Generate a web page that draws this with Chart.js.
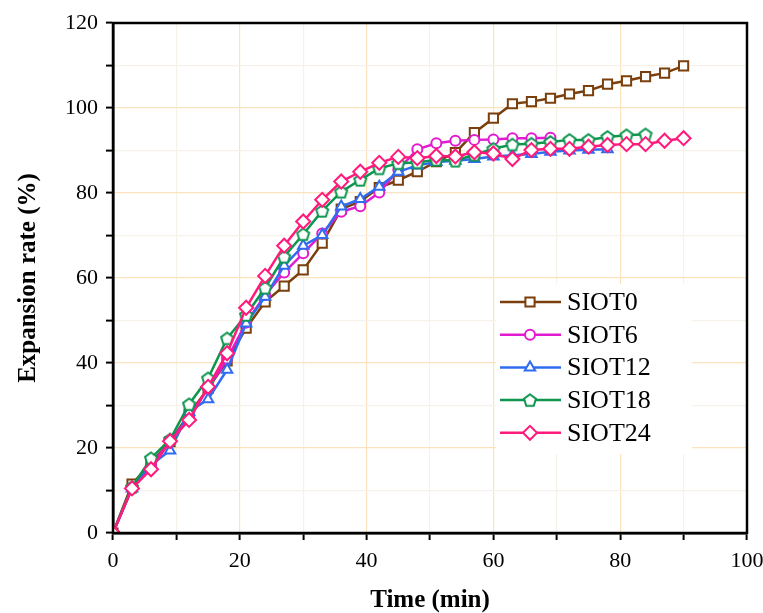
<!DOCTYPE html>
<html>
<head>
<meta charset="utf-8">
<script src="https://cdn.jsdelivr.net/npm/chart.js@4.4.0/dist/chart.umd.min.js"></script>
<style>
  body { margin: 0; background: #fff; }
  #wrap { width: 763px; height: 613px; }
</style>
</head>
<body>
<div id="wrap"><canvas id="chart" width="763" height="613"></canvas></div>
<script>
// sampling times (min), shared by all series
const timeMin = [0, 3, 6, 9, 12, 15, 18, 21, 24, 27, 30, 33, 36, 39, 42, 45, 48, 51, 54, 57, 60, 63, 66, 69, 72, 75, 78, 81, 84, 87, 90];

// expansion rate (%)
const siot0 = [0, 11.5, 16.5, 21.5, 28, 34, 40.5, 48.2, 54.4, 58.1, 61.9, 68.2, 76.2, 78, 81.3, 83, 85, 87.4, 89.5, 94.2, 97.6, 101, 101.5, 102.3, 103.3, 104.1, 105.6, 106.4, 107.4, 108.2, 109.9];
const siot6 = [0, 10.5, 16, 21.5, 27.5, 34, 41, 49.5, 56, 61.3, 65.8, 70.5, 75.6, 76.9, 80.1, 85.5, 90.3, 91.7, 92.3, 92.5, 92.6, 92.9, 92.9, 93];
const siot12 = [0, 10.5, 16, 19.4, 28.5, 31.5, 38.4, 49.3, 55.6, 62.9, 67.6, 70.1, 76.8, 78.6, 81.5, 85, 86.5, 87.3, 87.6, 88, 88.6, 88.9, 89.2, 89.7, 90, 90.2, 90.3];
const siot18 = [0, 10.8, 17.6, 22, 30.3, 36.4, 45.8, 51.3, 57.7, 65, 70.3, 75.8, 80.3, 83.1, 85.8, 87, 87.2, 87.8, 87.6, 89, 90.4, 91.4, 91.6, 92, 92.5, 92.5, 93.2, 93.6, 93.8];
const siot24 = [0, 10.5, 15, 21.6, 26.6, 34.4, 42.3, 53, 60.5, 67.6, 73.3, 78.4, 82.7, 85, 87.1, 88.5, 88.2, 88.7, 88.6, 89.6, 89.3, 88, 90.1, 90.4, 90.4, 90.9, 91.3, 91.5, 91.5, 92.3, 92.9];

const seriesNames = ['SIOT0', 'SIOT6', 'SIOT12', 'SIOT18', 'SIOT24'];
const seriesValues = [siot0, siot6, siot12, siot18, siot24];
const seriesColors = ['#7a3f0c', '#e21bd0', '#2f6cf0', '#0e9650', '#ff1a7c'];

const serif = "'Liberation Serif', 'Times New Roman', serif";

// pentagon marker (Chart.js has no built-in one)
function makePentagon(color) {
  const c = document.createElement('canvas');
  c.width = 16; c.height = 16;
  const g = c.getContext('2d');
  g.beginPath();
  for (let i = 0; i < 5; i++) {
    const a = -Math.PI / 2 + i * 2 * Math.PI / 5;
    const px = 8 + 6.3 * Math.cos(a), py = 8.6 + 6.3 * Math.sin(a);
    if (i === 0) g.moveTo(px, py); else g.lineTo(px, py);
  }
  g.closePath();
  g.fillStyle = '#fff';
  g.fill();
  g.lineWidth = 2;
  g.strokeStyle = color;
  g.stroke();
  return c;
}

const pointStyles = ['rect', 'circle', 'triangle', makePentagon(seriesColors[3]), 'rectRot'];
const pointSizes = [6.5, 5, 6, 6, 7];

const datasets = seriesNames.map((name, i) => ({
  label: name,
  data: seriesValues[i].map((v, j) => ({ x: timeMin[j], y: v })),
  borderColor: seriesColors[i],
  backgroundColor: '#fff',
  borderWidth: 2.5,
  pointStyle: pointStyles[i],
  pointRadius: pointSizes[i],
  pointBorderWidth: 2,
  pointBackgroundColor: '#fff',
  pointBorderColor: seriesColors[i],
  order: 4 - i,
  tension: 0
}));

// black box round the plot + legend with line and marker
const framePlugin = {
  id: 'frame',
  afterDraw(chart) {
    const { ctx, chartArea: a } = chart;
    ctx.save();
    ctx.strokeStyle = '#000';
    ctx.lineWidth = 2.5;
    ctx.strokeRect(a.left, a.top, a.right - a.left, a.bottom - a.top);

    const lx = a.right - 247, ly = a.top + 279;
    ctx.fillStyle = '#fff';
    ctx.fillRect(lx - 4, ly - 18, 196, 170);
    ctx.font = '26px ' + serif;
    ctx.textBaseline = 'middle';
    chart.data.datasets.forEach((ds, i) => {
      const y = ly + i * 32.7;
      ctx.strokeStyle = ds.borderColor;
      ctx.lineWidth = 2.5;
      ctx.beginPath();
      ctx.moveTo(lx, y);
      ctx.lineTo(lx + 61, y);
      ctx.stroke();
      ctx.fillStyle = '#fff';
      ctx.strokeStyle = ds.borderColor;
      ctx.lineWidth = 2;
      Chart.helpers.drawPoint(ctx, { pointStyle: ds.pointStyle, radius: ds.pointRadius, rotation: 0, borderWidth: 2 }, lx + 30, y);
      ctx.fillStyle = '#000';
      ctx.fillText(ds.label, lx + 67, y + 1);
    });
    ctx.restore();
  }
};

const gridColor = c => (c.tick && c.tick.value % 20 === 0) ? '#fde3bd' : '#f6f2ea';

new Chart(document.getElementById('chart').getContext('2d'), {
  type: 'line',
  data: { datasets: datasets },
  options: {
    responsive: false,
    animation: false,
    layout: { padding: { top: 23, right: 0, left: 0, bottom: 0 } },
    plugins: { legend: { display: false }, tooltip: { enabled: false } },
    scales: {
      x: {
        type: 'linear',
        min: 0,
        max: 100,
        ticks: {
          stepSize: 10,
          autoSkip: false,
          maxRotation: 0,
          padding: 8,
          color: '#000',
          font: { family: serif, size: 22 },
          callback: v => (v % 20 === 0 ? v : '')
        },
        grid: { color: gridColor, lineWidth: 1.2, tickColor: '#000', tickLength: 7, tickWidth: 2 },
        border: { color: '#000', width: 2.5 },
        title: {
          display: true,
          text: 'Time (min)',
          color: '#000',
          font: { family: serif, size: 25, weight: 'bold', lineHeight: 1 },
          padding: { top: 0, bottom: 0 }
        },
        afterFit: s => { s.height = 80; s.paddingRight = 16; s.paddingLeft = 0; }
      },
      y: {
        min: 0,
        max: 120,
        ticks: {
          stepSize: 10,
          autoSkip: false,
          padding: 8,
          color: '#000',
          font: { family: serif, size: 22 },
          callback: v => (v % 20 === 0 ? v : '')
        },
        grid: { color: gridColor, lineWidth: 1.2, tickColor: '#000', tickLength: 7, tickWidth: 2 },
        border: { color: '#000', width: 2.5 },
        title: {
          display: true,
          text: 'Expansion rate (%)',
          color: '#000',
          font: { family: serif, size: 25, weight: 'bold', lineHeight: 1 },
          padding: { top: 16, bottom: 0 }
        },
        afterFit: s => { s.width = 113; }
      }
    }
  },
  plugins: [framePlugin]
});
</script>
</body>
</html>
